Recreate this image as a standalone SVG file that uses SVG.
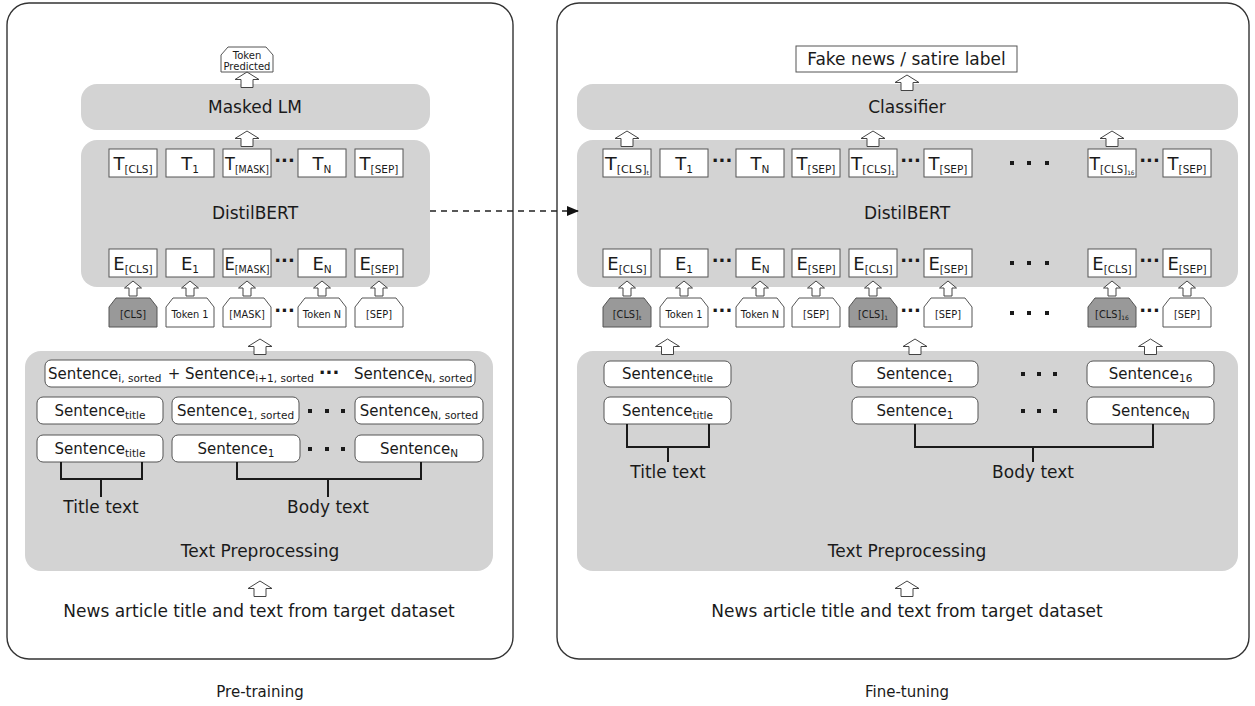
<svg xmlns="http://www.w3.org/2000/svg" xmlns:xlink="http://www.w3.org/1999/xlink" width="1255" height="706" viewBox="0 0 1255 706">
  <style>
    .panel{fill:#fff;stroke:#333;stroke-width:1.4}
    .gb{fill:#d3d3d3}
    .wb{fill:#fff;stroke:#555;stroke-width:1}
    .tok{fill:#fff;stroke:#555;stroke-width:1}
    .tokd{fill:#999;stroke:#555;stroke-width:1}
    .ha{fill:#fff;stroke:#444;stroke-width:1}
    .t{font-family:"DejaVu Sans",Verdana,sans-serif;fill:#1a1a1a}
    .big{font-size:17px}
    .te{font-size:18px}
    .ell{font-size:18px;font-weight:bold}
    .sen{font-size:15px}
    .sub{font-size:10.5px}
    .tk{font-size:9.8px}
    .cap{font-size:15px}
    .br{fill:none;stroke:#1a1a1a;stroke-width:2}
    .dot{fill:#1a1a1a}
    .dash{fill:none;stroke:#222;stroke-width:1.3;stroke-dasharray:6 5}
  </style>
  <defs>
    <path id="arB" d="M0,0 L12,7.5 L6,7.5 L6,15.5 L-6,15.5 L-6,7.5 L-12,7.5 Z"/>
    <path id="arS" d="M0,0 L8.5,7 L4,7 L4,15 L-4,15 L-4,7 L-8.5,7 Z"/>
    <path id="tokShape" d="M0,29 V9 L7,0 H41 L48,9 V29 Z"/>
    <marker id="head" markerWidth="12" markerHeight="10" refX="11" refY="5" orient="auto" markerUnits="userSpaceOnUse">
      <path d="M0,0 L12,5 L0,10 Z" fill="#111"/>
    </marker>
  </defs>

  <!-- panels -->
  <rect id="panel-pretrain" class="panel" x="7" y="3" width="506" height="656" rx="22"/>
  <rect id="panel-finetune" class="panel" x="557" y="3" width="692" height="656" rx="22"/>

  <!-- ===== Pre-training ===== -->
  <g id="token-predicted">
    <path class="tok" d="M221,72 V55 L228,47 H266 L273,55 V72 Z"/>
    <text class="t" font-size="10" x="247" y="58.5" text-anchor="middle">Token</text>
    <text class="t" font-size="10" x="247" y="69.5" text-anchor="middle">Predicted</text>
  </g>
  <g id="masked-lm">
    <rect class="gb" x="81" y="84" width="349" height="46" rx="16"/>
    <text class="t big" x="255" y="113" text-anchor="middle">Masked LM</text>
  </g>
  <g id="distilbert-pre">
    <rect class="gb" x="81" y="140" width="349" height="147" rx="16"/>
    <text class="t big" x="255" y="219" text-anchor="middle">DistilBERT</text>
  </g>
  <g id="t-row-pre" class="t">
    <rect class="wb" x="109" y="149" width="48" height="28"/>
    <text class="te" x="133" y="170" text-anchor="middle">T<tspan class="sub" dy="3">[CLS]</tspan></text>
    <rect class="wb" x="166" y="149" width="48" height="28"/>
    <text class="te" x="190" y="170" text-anchor="middle">T<tspan class="sub" dy="3">1</tspan></text>
    <rect class="wb" x="223" y="149" width="48" height="28"/>
    <text class="te" x="247" y="170" text-anchor="middle" textLength="44" lengthAdjust="spacingAndGlyphs">T<tspan class="sub" dy="3">[MASK]</tspan></text>
    <text class="ell" x="284.5" y="167" text-anchor="middle">···</text>
    <rect class="wb" x="298" y="149" width="48" height="28"/>
    <text class="te" x="322" y="170" text-anchor="middle">T<tspan class="sub" dy="3">N</tspan></text>
    <rect class="wb" x="355" y="149" width="48" height="28"/>
    <text class="te" x="379" y="170" text-anchor="middle">T<tspan class="sub" dy="3">[SEP]</tspan></text>
  </g>
  <g id="e-row-pre" class="t">
    <rect class="wb" x="109" y="249" width="48" height="28"/>
    <text class="te" x="133" y="270" text-anchor="middle">E<tspan class="sub" dy="3">[CLS]</tspan></text>
    <rect class="wb" x="166" y="249" width="48" height="28"/>
    <text class="te" x="190" y="270" text-anchor="middle">E<tspan class="sub" dy="3">1</tspan></text>
    <rect class="wb" x="223" y="249" width="48" height="28"/>
    <text class="te" x="247" y="270" text-anchor="middle" textLength="45" lengthAdjust="spacingAndGlyphs">E<tspan class="sub" dy="3">[MASK]</tspan></text>
    <text class="ell" x="284.5" y="267" text-anchor="middle">···</text>
    <rect class="wb" x="298" y="249" width="48" height="28"/>
    <text class="te" x="322" y="270" text-anchor="middle">E<tspan class="sub" dy="3">N</tspan></text>
    <rect class="wb" x="355" y="249" width="48" height="28"/>
    <text class="te" x="379" y="270" text-anchor="middle">E<tspan class="sub" dy="3">[SEP]</tspan></text>
  </g>
  <g id="tokens-pre" class="t">
    <use href="#tokShape" class="tokd" x="109" y="298"/>
    <text class="tk" x="133" y="318" text-anchor="middle">[CLS]</text>
    <use href="#tokShape" class="tok" x="166" y="298"/>
    <text class="tk" x="190" y="318" text-anchor="middle">Token 1</text>
    <use href="#tokShape" class="tok" x="223" y="298"/>
    <text class="tk" x="247" y="318" text-anchor="middle">[MASK]</text>
    <text class="ell" x="284.5" y="317" text-anchor="middle">···</text>
    <use href="#tokShape" class="tok" x="298" y="298"/>
    <text class="tk" x="322" y="318" text-anchor="middle">Token N</text>
    <use href="#tokShape" class="tok" x="355" y="298"/>
    <text class="tk" x="379" y="318" text-anchor="middle">[SEP]</text>
  </g>

  <g id="preprocessing-pre">
    <rect class="gb" x="25" y="351" width="468" height="220" rx="16"/>
    <text class="t big" x="260" y="557" text-anchor="middle">Text Preprocessing</text>
  </g>
  <g id="sorted-concat" class="t sen">
    <rect class="wb" x="45" y="360" width="430" height="27" rx="6"/>
    <text x="48" y="379">Sentence<tspan class="sub" dy="3">i, sorted</tspan></text>
    <text x="174" y="379" text-anchor="middle">+</text>
    <text x="185" y="379">Sentence<tspan class="sub" dy="3">i+1, sorted</tspan></text>
    <text class="ell" x="329" y="379" font-size="15" text-anchor="middle">···</text>
    <text x="354" y="379">Sentence<tspan class="sub" dy="3">N, sorted</tspan></text>
  </g>
  <g id="sorted-row" class="t sen">
    <rect class="wb" x="37" y="397" width="126" height="27" rx="6"/>
    <text x="100" y="416" text-anchor="middle">Sentence<tspan class="sub" dy="3">title</tspan></text>
    <rect class="wb" x="172" y="397" width="127" height="27" rx="6"/>
    <text x="235.5" y="416" text-anchor="middle">Sentence<tspan class="sub" dy="3">1, sorted</tspan></text>
    <rect class="dot" x="308" y="409" width="4" height="4"/>
    <rect class="dot" x="325" y="409" width="4" height="4"/>
    <rect class="dot" x="341" y="409" width="4" height="4"/>
    <rect class="wb" x="355" y="397" width="128" height="27" rx="6"/>
    <text x="419" y="416" text-anchor="middle">Sentence<tspan class="sub" dy="3">N, sorted</tspan></text>
  </g>
  <g id="raw-row-pre" class="t sen">
    <rect class="wb" x="37" y="435" width="126" height="27" rx="6"/>
    <text x="100" y="454" text-anchor="middle">Sentence<tspan class="sub" dy="3">title</tspan></text>
    <rect class="wb" x="172" y="435" width="128" height="27" rx="6"/>
    <text x="236" y="454" text-anchor="middle">Sentence<tspan class="sub" dy="3">1</tspan></text>
    <rect class="dot" x="308" y="447" width="4" height="4"/>
    <rect class="dot" x="325" y="447" width="4" height="4"/>
    <rect class="dot" x="341" y="447" width="4" height="4"/>
    <rect class="wb" x="355" y="435" width="128" height="27" rx="6"/>
    <text x="419" y="454" text-anchor="middle">Sentence<tspan class="sub" dy="3">N</tspan></text>
  </g>
  <g id="groups-pre" class="t big">
    <path class="br" d="M61,462 V479 H142 V462 M101,479 V497"/>
    <path class="br" d="M237,462 V479 H421 V462 M328,479 V497"/>
    <text x="101" y="513" text-anchor="middle">Title text</text>
    <text x="328" y="513" text-anchor="middle">Body text</text>
  </g>
  <g id="source-pre">
    <text class="t big" x="259" y="617" text-anchor="middle">News article title and text from target dataset</text>
  </g>
  <text id="caption-pre" class="t cap" x="260" y="697" text-anchor="middle">Pre-training</text>

  <!-- ===== Fine-tuning ===== -->
  <g id="label-out">
    <rect class="wb" x="796" y="46" width="221" height="26"/>
    <text class="t big" x="906.5" y="65" text-anchor="middle">Fake news / satire label</text>
  </g>
  <g id="classifier">
    <rect class="gb" x="577" y="84" width="661" height="46" rx="16"/>
    <text class="t big" x="907" y="113" text-anchor="middle">Classifier</text>
  </g>
  <g id="distilbert-fine">
    <rect class="gb" x="577" y="140" width="661" height="147" rx="16"/>
    <text class="t big" x="907" y="219" text-anchor="middle">DistilBERT</text>
  </g>
  <g id="t-row-fine" class="t">
    <rect class="wb" x="603" y="149" width="48" height="28"/>
    <text class="te" x="627" y="170" text-anchor="middle" textLength="44" lengthAdjust="spacingAndGlyphs">T<tspan class="sub" dy="3">[CLS]</tspan><tspan font-size="6" dy="2">t</tspan></text>
    <rect class="wb" x="660" y="149" width="48" height="28"/>
    <text class="te" x="684" y="170" text-anchor="middle">T<tspan class="sub" dy="3">1</tspan></text>
    <text class="ell" x="722" y="167" text-anchor="middle">···</text>
    <rect class="wb" x="736" y="149" width="48" height="28"/>
    <text class="te" x="760" y="170" text-anchor="middle">T<tspan class="sub" dy="3">N</tspan></text>
    <rect class="wb" x="792" y="149" width="48" height="28"/>
    <text class="te" x="816" y="170" text-anchor="middle">T<tspan class="sub" dy="3">[SEP]</tspan></text>
    <rect class="wb" x="849" y="149" width="48" height="28"/>
    <text class="te" x="873" y="170" text-anchor="middle" textLength="44" lengthAdjust="spacingAndGlyphs">T<tspan class="sub" dy="3">[CLS]</tspan><tspan font-size="6" dy="2">1</tspan></text>
    <text class="ell" x="910.5" y="167" text-anchor="middle">···</text>
    <rect class="wb" x="924" y="149" width="48" height="28"/>
    <text class="te" x="948" y="170" text-anchor="middle">T<tspan class="sub" dy="3">[SEP]</tspan></text>
    <rect class="dot" x="1010" y="161" width="4" height="4"/>
    <rect class="dot" x="1027" y="161" width="4" height="4"/>
    <rect class="dot" x="1045" y="161" width="4" height="4"/>
    <rect class="wb" x="1088" y="149" width="48" height="28"/>
    <text class="te" x="1112" y="170" text-anchor="middle" textLength="45" lengthAdjust="spacingAndGlyphs">T<tspan class="sub" dy="3">[CLS]</tspan><tspan font-size="6" dy="2">16</tspan></text>
    <text class="ell" x="1149.5" y="167" text-anchor="middle">···</text>
    <rect class="wb" x="1163" y="149" width="48" height="28"/>
    <text class="te" x="1187" y="170" text-anchor="middle">T<tspan class="sub" dy="3">[SEP]</tspan></text>
  </g>
  <g id="e-row-fine" class="t">
    <rect class="wb" x="603" y="249" width="48" height="28"/>
    <text class="te" x="627" y="270" text-anchor="middle">E<tspan class="sub" dy="3">[CLS]</tspan></text>
    <rect class="wb" x="660" y="249" width="48" height="28"/>
    <text class="te" x="684" y="270" text-anchor="middle">E<tspan class="sub" dy="3">1</tspan></text>
    <text class="ell" x="722" y="267" text-anchor="middle">···</text>
    <rect class="wb" x="736" y="249" width="48" height="28"/>
    <text class="te" x="760" y="270" text-anchor="middle">E<tspan class="sub" dy="3">N</tspan></text>
    <rect class="wb" x="792" y="249" width="48" height="28"/>
    <text class="te" x="816" y="270" text-anchor="middle">E<tspan class="sub" dy="3">[SEP]</tspan></text>
    <rect class="wb" x="849" y="249" width="48" height="28"/>
    <text class="te" x="873" y="270" text-anchor="middle">E<tspan class="sub" dy="3">[CLS]</tspan></text>
    <text class="ell" x="910.5" y="267" text-anchor="middle">···</text>
    <rect class="wb" x="924" y="249" width="48" height="28"/>
    <text class="te" x="948" y="270" text-anchor="middle">E<tspan class="sub" dy="3">[SEP]</tspan></text>
    <rect class="dot" x="1010" y="261" width="4" height="4"/>
    <rect class="dot" x="1027" y="261" width="4" height="4"/>
    <rect class="dot" x="1045" y="261" width="4" height="4"/>
    <rect class="wb" x="1088" y="249" width="48" height="28"/>
    <text class="te" x="1112" y="270" text-anchor="middle">E<tspan class="sub" dy="3">[CLS]</tspan></text>
    <text class="ell" x="1149.5" y="267" text-anchor="middle">···</text>
    <rect class="wb" x="1163" y="249" width="48" height="28"/>
    <text class="te" x="1187" y="270" text-anchor="middle">E<tspan class="sub" dy="3">[SEP]</tspan></text>
  </g>
  <g id="tokens-fine" class="t">
    <use href="#tokShape" class="tokd" x="603" y="298"/>
    <text class="tk" x="627" y="318" text-anchor="middle">[CLS]<tspan font-size="6" dy="2">t</tspan></text>
    <use href="#tokShape" class="tok" x="660" y="298"/>
    <text class="tk" x="684" y="318" text-anchor="middle">Token 1</text>
    <text class="ell" x="722" y="317" text-anchor="middle">···</text>
    <use href="#tokShape" class="tok" x="736" y="298"/>
    <text class="tk" x="760" y="318" text-anchor="middle">Token N</text>
    <use href="#tokShape" class="tok" x="792" y="298"/>
    <text class="tk" x="816" y="318" text-anchor="middle">[SEP]</text>
    <use href="#tokShape" class="tokd" x="849" y="298"/>
    <text class="tk" x="873" y="318" text-anchor="middle">[CLS]<tspan font-size="6" dy="2">1</tspan></text>
    <text class="ell" x="910.5" y="317" text-anchor="middle">···</text>
    <use href="#tokShape" class="tok" x="924" y="298"/>
    <text class="tk" x="948" y="318" text-anchor="middle">[SEP]</text>
    <rect class="dot" x="1010" y="311" width="4" height="4"/>
    <rect class="dot" x="1027" y="311" width="4" height="4"/>
    <rect class="dot" x="1045" y="311" width="4" height="4"/>
    <use href="#tokShape" class="tokd" x="1088" y="298"/>
    <text class="tk" x="1112" y="318" text-anchor="middle">[CLS]<tspan font-size="6" dy="2">16</tspan></text>
    <text class="ell" x="1149.5" y="317" text-anchor="middle">···</text>
    <use href="#tokShape" class="tok" x="1163" y="298"/>
    <text class="tk" x="1187" y="318" text-anchor="middle">[SEP]</text>
  </g>

  <g id="preprocessing-fine">
    <rect class="gb" x="577" y="351" width="661" height="220" rx="16"/>
    <text class="t big" x="907" y="557" text-anchor="middle">Text Preprocessing</text>
  </g>
  <g id="selected-row" class="t sen">
    <rect class="wb" x="604" y="361" width="127" height="26" rx="6"/>
    <text x="667.5" y="379" text-anchor="middle">Sentence<tspan class="sub" dy="3">title</tspan></text>
    <rect class="wb" x="852" y="361" width="126" height="26" rx="6"/>
    <text x="915" y="379" text-anchor="middle">Sentence<tspan class="sub" dy="3">1</tspan></text>
    <rect class="dot" x="1021" y="372" width="4" height="4"/>
    <rect class="dot" x="1037" y="372" width="4" height="4"/>
    <rect class="dot" x="1053" y="372" width="4" height="4"/>
    <rect class="wb" x="1087" y="361" width="127" height="26" rx="6"/>
    <text x="1150.5" y="379" text-anchor="middle">Sentence<tspan class="sub" dy="3">16</tspan></text>
  </g>
  <g id="raw-row-fine" class="t sen">
    <rect class="wb" x="604" y="397" width="127" height="27" rx="6"/>
    <text x="667.5" y="416" text-anchor="middle">Sentence<tspan class="sub" dy="3">title</tspan></text>
    <rect class="wb" x="852" y="397" width="126" height="27" rx="6"/>
    <text x="915" y="416" text-anchor="middle">Sentence<tspan class="sub" dy="3">1</tspan></text>
    <rect class="dot" x="1021" y="409" width="4" height="4"/>
    <rect class="dot" x="1037" y="409" width="4" height="4"/>
    <rect class="dot" x="1053" y="409" width="4" height="4"/>
    <rect class="wb" x="1087" y="397" width="127" height="27" rx="6"/>
    <text x="1150.5" y="416" text-anchor="middle">Sentence<tspan class="sub" dy="3">N</tspan></text>
  </g>
  <g id="groups-fine" class="t big">
    <path class="br" d="M627,424 V447 H709 V424 M668,447 V462"/>
    <path class="br" d="M915,424 V447 H1153 V424 M1033,447 V462"/>
    <text x="668" y="478" text-anchor="middle">Title text</text>
    <text x="1033" y="478" text-anchor="middle">Body text</text>
  </g>
  <g id="source-fine">
    <text class="t big" x="907" y="617" text-anchor="middle">News article title and text from target dataset</text>
  </g>
  <text id="caption-fine" class="t cap" x="907" y="697" text-anchor="middle">Fine-tuning</text>

  <!-- ===== connectors ===== -->
  <g id="connectors">
    <!-- pre-training flow -->
    <use href="#arB" class="ha" x="247" y="72"/>
    <use href="#arB" class="ha" x="247" y="131"/>
    <use href="#arS" class="ha" x="133" y="281"/>
    <use href="#arS" class="ha" x="190" y="281"/>
    <use href="#arS" class="ha" x="247" y="281"/>
    <use href="#arS" class="ha" x="322" y="281"/>
    <use href="#arS" class="ha" x="379" y="281"/>
    <use href="#arB" class="ha" x="260" y="339"/>
    <use href="#arB" class="ha" x="260" y="581"/>
    <!-- fine-tuning flow -->
    <use href="#arB" class="ha" x="907" y="75"/>
    <use href="#arB" class="ha" x="627" y="131"/>
    <use href="#arB" class="ha" x="873" y="131"/>
    <use href="#arB" class="ha" x="1112" y="131"/>
    <use href="#arS" class="ha" x="627" y="281"/>
    <use href="#arS" class="ha" x="684" y="281"/>
    <use href="#arS" class="ha" x="760" y="281"/>
    <use href="#arS" class="ha" x="816" y="281"/>
    <use href="#arS" class="ha" x="873" y="281"/>
    <use href="#arS" class="ha" x="948" y="281"/>
    <use href="#arS" class="ha" x="1112" y="281"/>
    <use href="#arS" class="ha" x="1187" y="281"/>
    <use href="#arB" class="ha" x="667.5" y="339"/>
    <use href="#arB" class="ha" x="915" y="339"/>
    <use href="#arB" class="ha" x="1150.5" y="339"/>
    <use href="#arB" class="ha" x="907" y="581"/>
    <!-- weight transfer -->
    <line class="dash" x1="430" y1="211" x2="578" y2="211" marker-end="url(#head)"/>
  </g>
</svg>
